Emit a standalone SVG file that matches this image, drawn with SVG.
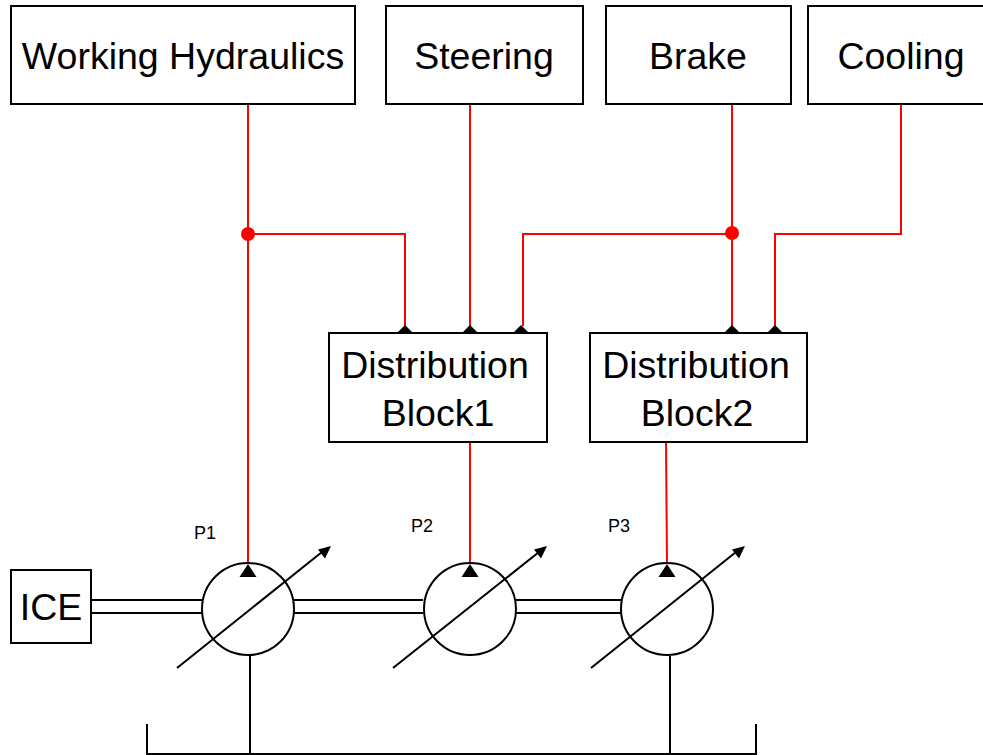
<svg xmlns="http://www.w3.org/2000/svg" width="983" height="755" viewBox="0 0 983 755">
<style>
.box{fill:#fff;stroke:#000;stroke-width:2}
.t{font-family:"Liberation Sans",Arial,sans-serif;font-size:37.5px;fill:#000;text-anchor:middle}
.s{font-family:"Liberation Sans",Arial,sans-serif;font-size:18px;fill:#000;text-anchor:middle}
.red{fill:none;stroke:#f00;stroke-width:2}
.blk{fill:none;stroke:#000;stroke-width:2}
.circ{fill:#fff;stroke:#000;stroke-width:2}
.var{stroke:#000;stroke-width:2;fill:none}
</style>
<rect width="983" height="755" fill="#fff"/>
<g id="connectors">
<path class="red" d="M248 104V564"/>
<path class="red" d="M248 234H405V326"/>
<path class="red" d="M470 104V326"/>
<path class="red" d="M732 104V326"/>
<path class="red" d="M732 234H523V326"/>
<path class="red" d="M901 104V234H775V326"/>
<path class="red" d="M470 442V564"/>
<path class="red" d="M666 443L667 564"/>
<circle cx="248" cy="234" r="7" fill="#f00"/>
<circle cx="732" cy="233" r="7" fill="#f00"/>
<path class="blk" d="M92 600H203M92 613H203"/>
<path class="blk" d="M294 600H423M294 613H423"/>
<path class="blk" d="M516 600H621M516 613H621"/>
<path class="blk" d="M250 656V755M670 656V755"/>
<path class="blk" d="M147 724V754H756V724"/>
</g>
<g id="working-hydraulics"><rect class="box" x="11" y="6" width="344" height="98"/><text class="t" x="183" y="69">Working Hydraulics</text></g>
<g id="steering"><rect class="box" x="386" y="6" width="197" height="98"/><text class="t" x="484" y="69">Steering</text></g>
<g id="brake"><rect class="box" x="606" y="6" width="185" height="98"/><text class="t" x="698" y="69">Brake</text></g>
<g id="cooling"><rect class="box" x="808" y="6" width="180" height="98"/><text class="t" x="901" y="69">Cooling</text></g>
<g id="block1"><rect class="box" x="329" y="333" width="218" height="109"/><text class="t" x="435" y="378">Distribution</text><text class="t" x="438" y="426">Block1</text></g>
<g id="block2"><rect class="box" x="590" y="333" width="217" height="109"/><text class="t" x="696" y="378">Distribution</text><text class="t" x="697" y="426">Block2</text></g>
<g id="arrowheads-blocks" fill="#000">
<path d="M405 325l-8.500 8.500h17z"/><path d="M470 325l-8.500 8.500h17z"/><path d="M521 325l-8.500 8.500h17z"/><path d="M732 325l-8.500 8.500h17z"/><path d="M775 325l-8.500 8.500h17z"/>
</g>
<g id="ice"><rect class="box" x="11" y="570" width="80" height="73"/><text class="t" x="51" y="620">ICE</text></g>
<g id="p1"><circle class="circ" cx="248" cy="609" r="46"/><path d="M248 564l-8.500 13h17z"/><path class="var" d="M177 668L322 552"/><path d="M331 546l-13 3.500 7 9z"/><text class="s" x="205" y="539">P1</text></g>
<g id="p2"><circle class="circ" cx="470" cy="609" r="46"/><path d="M470 564l-8.500 13h17z"/><path class="var" d="M393 668L539 552"/><path d="M547 546l-13 3.500 7 9z"/><text class="s" x="422" y="532">P2</text></g>
<g id="p3"><circle class="circ" cx="667" cy="609" r="46"/><path d="M667 564l-8.500 13h17z"/><path class="var" d="M591 668L736 552"/><path d="M745 546l-13 3.500 7 9z"/><text class="s" x="619" y="532">P3</text></g>
</svg>
